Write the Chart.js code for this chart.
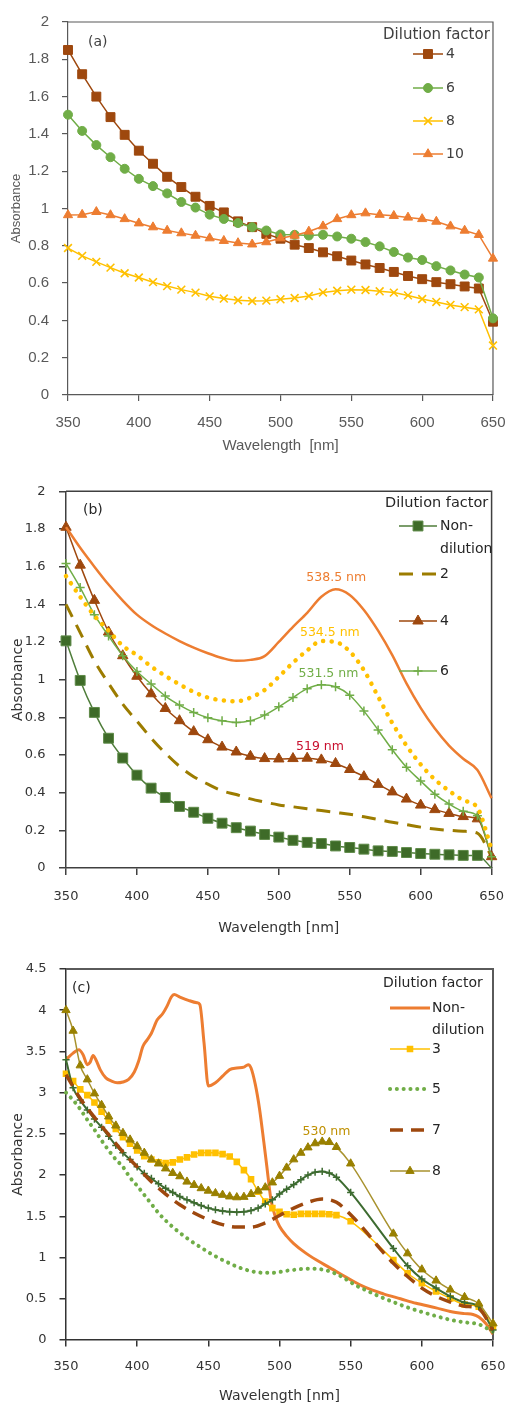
<!DOCTYPE html>
<html><head><meta charset="utf-8">
<script src="https://cdn.jsdelivr.net/npm/chart.js@4.4.1/dist/chart.umd.min.js"></script>
<style>
html,body{margin:0;padding:0;background:#fff;}
body{width:518px;height:1405px;position:relative;overflow:hidden;}
.panel{position:absolute;left:0;width:518px;}
</style></head><body>
<div class="panel" style="top:0;height:460px"><canvas id="ca"></canvas></div>
<div class="panel" style="top:470px;height:470px"><canvas id="cb"></canvas></div>
<div class="panel" style="top:945px;height:460px"><canvas id="cc"></canvas></div>
<script>
// ---------- DATA ----------
const xTicks = [350, 400, 450, 500, 550, 600, 650];
const xTickLabels = ['350', '400', '450', '500', '550', '600', '650'];
const yTicksAB = [0, 0.2, 0.4, 0.6, 0.8, 1, 1.2, 1.4, 1.6, 1.8, 2];
const yTickLabelsAB = ['0', '0.2', '0.4', '0.6', '0.8', '1', '1.2', '1.4', '1.6', '1.8', '2'];
const yTicksC = [0, 0.5, 1, 1.5, 2, 2.5, 3, 3.5, 4, 4.5];
const yTickLabelsC = ['0', '0.5', '1', '1.5', '2', '2.5', '3', '3.5', '4', '4.5'];

// Panel (a)
const wl10 = [350,360,370,380,390,400,410,420,430,440,450,460,470,480,490,500,510,520,530,540,550,560,570,580,590,600,610,620,630,640,650];
const a_df4  = [1.85,1.72,1.60,1.49,1.395,1.31,1.24,1.17,1.115,1.063,1.014,0.979,0.931,0.90,0.864,0.838,0.806,0.788,0.765,0.744,0.721,0.70,0.681,0.66,0.638,0.621,0.605,0.594,0.582,0.571,0.393];
const a_df6  = [1.503,1.416,1.34,1.275,1.213,1.159,1.12,1.081,1.035,1.005,0.967,0.944,0.922,0.90,0.882,0.861,0.859,0.855,0.859,0.85,0.838,0.82,0.797,0.767,0.737,0.724,0.691,0.668,0.646,0.63,0.411];
const a_df8  = [0.788,0.746,0.714,0.683,0.653,0.63,0.605,0.584,0.565,0.549,0.529,0.517,0.508,0.504,0.506,0.513,0.52,0.531,0.55,0.559,0.565,0.563,0.556,0.549,0.534,0.515,0.499,0.483,0.471,0.459,0.265];
const a_df10 = [0.965,0.967,0.982,0.965,0.944,0.921,0.90,0.882,0.868,0.855,0.841,0.827,0.815,0.808,0.82,0.841,0.855,0.877,0.905,0.944,0.965,0.975,0.967,0.961,0.952,0.944,0.93,0.905,0.882,0.859,0.732];

// Panel (b)
const b_nondil = [1.206,0.996,0.826,0.689,0.584,0.493,0.424,0.374,0.327,0.296,0.264,0.238,0.214,0.196,0.178,0.164,0.147,0.136,0.13,0.117,0.109,0.10,0.091,0.088,0.082,0.077,0.073,0.07,0.067,0.067,0.0];
const b_df2    = [1.40,1.25,1.10,0.98,0.87,0.78,0.69,0.61,0.54,0.485,0.445,0.41,0.39,0.367,0.35,0.335,0.325,0.315,0.305,0.295,0.285,0.272,0.258,0.243,0.23,0.217,0.207,0.2,0.195,0.185,0.06];
const b_df4    = [1.809,1.608,1.421,1.253,1.127,1.018,0.925,0.847,0.782,0.724,0.681,0.642,0.616,0.593,0.581,0.579,0.581,0.583,0.574,0.555,0.523,0.485,0.444,0.404,0.366,0.334,0.31,0.29,0.273,0.261,0.06];
const b_df6    = [1.617,1.489,1.345,1.232,1.127,1.043,0.977,0.913,0.865,0.826,0.798,0.782,0.773,0.782,0.812,0.856,0.905,0.952,0.973,0.962,0.917,0.833,0.733,0.628,0.535,0.462,0.392,0.34,0.301,0.278,0.06];
const b_dotted = [1.55,1.44,1.34,1.26,1.18,1.13,1.07,1.02,0.975,0.935,0.905,0.89,0.885,0.905,0.945,1.015,1.09,1.155,1.205,1.20,1.15,1.05,0.91,0.77,0.65,0.55,0.47,0.41,0.36,0.32,0.10];
const b_solid  = [1.81,1.70,1.60,1.505,1.42,1.345,1.29,1.245,1.205,1.17,1.14,1.115,1.10,1.105,1.125,1.20,1.28,1.355,1.44,1.48,1.45,1.37,1.26,1.13,0.98,0.85,0.74,0.65,0.58,0.52,0.37];
const b_peakText = ['538.5 nm', '534.5 nm', '531.5 nm', '519 nm'];
const b_peakX = [540.5, 536, 535, 529];
const b_peakY = [1.54, 1.25, 1.03, 0.645];

// Panel (c)
const c_wlNon = [350,355,359,362,365,367,369,371,374,378,382,386,390,394,398,401,404,407,410,414,418,421,424,426,430,436,442,444,447,450,455,460,465,470,475,478,480,483,486,489,491,494,497,500,505,510,518,526,538,550,560,573,585,596,610,620,630,636,640,645,650];
const c_nondil = [3.40,3.48,3.52,3.46,3.34,3.37,3.45,3.40,3.28,3.18,3.14,3.12,3.13,3.16,3.25,3.38,3.56,3.64,3.72,3.88,3.96,4.05,4.16,4.19,4.16,4.12,4.09,4.07,3.60,3.08,3.12,3.20,3.28,3.30,3.31,3.34,3.30,3.10,2.80,2.40,2.12,1.70,1.50,1.38,1.26,1.17,1.06,0.97,0.85,0.73,0.64,0.56,0.50,0.445,0.39,0.345,0.32,0.31,0.28,0.20,0.07];
const c_wlMk = [350,355,360,365,370,375,380,385,390,395,400,405,410,415,420,425,430,435,440,445,450,455,460,465,470,475,480,485,490,495,500,505,510,515,520,525,530,535,540,550,580,590,600,610,620,630,640,650];
const c_df3 = [3.23,3.14,3.04,2.97,2.88,2.77,2.66,2.56,2.46,2.38,2.30,2.23,2.19,2.155,2.145,2.155,2.19,2.215,2.25,2.27,2.27,2.27,2.255,2.225,2.16,2.06,1.95,1.80,1.68,1.60,1.555,1.525,1.52,1.53,1.53,1.53,1.53,1.525,1.515,1.44,0.97,0.81,0.69,0.59,0.505,0.43,0.405,0.16];
const c_df8 = [4.00,3.75,3.33,3.16,2.99,2.85,2.71,2.60,2.51,2.43,2.35,2.27,2.19,2.14,2.08,2.025,1.985,1.92,1.88,1.84,1.81,1.78,1.76,1.74,1.73,1.735,1.77,1.81,1.85,1.91,1.99,2.09,2.19,2.27,2.335,2.385,2.405,2.40,2.34,2.14,1.29,1.05,0.855,0.72,0.61,0.52,0.44,0.20];
const c_plus = [3.40,3.06,2.91,2.79,2.68,2.58,2.47,2.36,2.27,2.19,2.10,2.02,1.96,1.895,1.84,1.79,1.74,1.70,1.665,1.63,1.60,1.58,1.565,1.555,1.55,1.555,1.57,1.60,1.65,1.70,1.77,1.83,1.885,1.945,2.00,2.035,2.045,2.025,1.975,1.79,1.11,0.90,0.74,0.63,0.53,0.455,0.405,0.12];
const c_df7 = [3.22,2.93,2.70,2.49,2.28,2.10,1.92,1.77,1.64,1.54,1.46,1.40,1.37,1.37,1.42,1.51,1.60,1.67,1.71,1.67,1.52,1.33,1.12,0.93,0.77,0.63,0.53,0.46,0.41,0.38,0.12];
const c_wl5 = [350,355,360,365,370,375,380,385,390,395,400,405,410,415,420,425,430,435,440,445,450,455,460,465,470,475,480,485,490,495,500,505,510,515,520,525,530,535,540,545,550,555,560,570,580,590,600,610,620,630,640,650];
const c_df5 = [3.00,2.91,2.80,2.67,2.55,2.42,2.30,2.19,2.10,1.97,1.87,1.76,1.65,1.54,1.45,1.37,1.30,1.235,1.175,1.12,1.065,1.015,0.97,0.93,0.89,0.86,0.835,0.82,0.815,0.815,0.825,0.84,0.85,0.86,0.865,0.865,0.855,0.835,0.80,0.755,0.70,0.65,0.61,0.53,0.46,0.395,0.34,0.29,0.245,0.215,0.19,0.10];
const c_peakText = ['530 nm'];
const c_peakX = [533];
const c_peakY = [2.53];

// ---------- HELPERS ----------
const pts = (xs, ys) => xs.map((x, i) => ({x: x, y: ys[i]}));
const ORANGE = '#ED7D31', BROWN = '#9E480E', GREEN = '#70AD47', YELLOW = '#FFC000',
      DKGREEN = '#3E6B28', OLIVE = '#9C7C00', OLIVE2 = '#998000', DKGREEN2 = '#3D6B30';

function drawMarker(ctx, ds, x, y) {
  const st = ds.pointStyle;
  const r = ds.legendRadius || (typeof ds.pointRadius === 'number' ? ds.pointRadius : 0);
  if (!st || !r) return;
  ctx.save();
  ctx.setLineDash([]);
  ctx.fillStyle = ds.pointBackgroundColor || ds.borderColor;
  ctx.strokeStyle = ds.pointBorderColor || ds.borderColor;
  ctx.lineWidth = ds.pointBorderWidth || 1;
  ctx.beginPath();
  let fill = true;
  if (st === 'rect') {
    const s = r * Math.SQRT1_2;
    ctx.rect(x - s, y - s, 2 * s, 2 * s);
  } else if (st === 'circle') {
    ctx.arc(x, y, r, 0, Math.PI * 2);
  } else if (st === 'triangle') {
    let a = 0;
    ctx.moveTo(x + Math.sin(a) * r, y - Math.cos(a) * r);
    a += 2 * Math.PI / 3; ctx.lineTo(x + Math.sin(a) * r, y - Math.cos(a) * r);
    a += 2 * Math.PI / 3; ctx.lineTo(x + Math.sin(a) * r, y - Math.cos(a) * r);
    ctx.closePath();
  } else if (st === 'cross') {
    fill = false;
    ctx.moveTo(x - r, y); ctx.lineTo(x + r, y); ctx.moveTo(x, y - r); ctx.lineTo(x, y + r);
  } else if (st === 'crossRot') {
    fill = false;
    const s = r * Math.SQRT1_2;
    ctx.moveTo(x - s, y - s); ctx.lineTo(x + s, y + s); ctx.moveTo(x - s, y + s); ctx.lineTo(x + s, y - s);
  }
  if (fill) ctx.fill();
  ctx.stroke();
  ctx.restore();
}

const deco = {
  id: 'deco',
  beforeDatasetsDraw(chart, args, o) {
    const {ctx, chartArea: a} = chart;
    ctx.save();
    ctx.strokeStyle = o.frameColor; ctx.lineWidth = o.frameWidth;
    ctx.beginPath(); ctx.moveTo(a.left, a.top); ctx.lineTo(a.right, a.top); ctx.lineTo(a.right, a.bottom);
    ctx.stroke(); ctx.restore();
  },
  afterDraw(chart, args, o) {
    const ctx = chart.ctx, off = o.offset;
    ctx.save();
    ctx.textBaseline = 'middle';
    ctx.font = o.labelFont; ctx.fillStyle = o.textColor; ctx.textAlign = 'left';
    ctx.fillText(o.label, o.labelX, o.labelY - off);
    const L = o.legend;
    ctx.font = L.titleFont; ctx.fillStyle = o.textColor;
    ctx.fillText(L.title, L.titleX, L.titleY - off);
    ctx.font = L.font;
    L.items.forEach(it => {
      const ds = chart.data.datasets[it.ds];
      const y = it.y - off;
      ctx.save();
      ctx.strokeStyle = ds.borderColor; ctx.lineWidth = ds.borderWidth;
      ctx.setLineDash(ds.borderDash || []);
      ctx.lineCap = ds.borderCapStyle || 'butt';
      ctx.beginPath(); ctx.moveTo(L.x0, y); ctx.lineTo(L.x1, y); ctx.stroke();
      ctx.restore();
      drawMarker(ctx, ds, (L.x0 + L.x1) / 2, y);
      ctx.fillStyle = o.textColor;
      it.lines.forEach((t, k) => ctx.fillText(t, L.textX, y + k * L.lineGap));
    });
    const xs = chart.scales.x, ys = chart.scales.y;
    ctx.font = o.annFont; ctx.textAlign = 'center';
    o.ann.text.forEach((t, i) => {
      ctx.fillStyle = o.ann.colors[i];
      ctx.fillText(t, xs.getPixelForValue(o.ann.x[i]), ys.getPixelForValue(o.ann.y[i]));
    });
    ctx.restore();
  }
};

function scales(o) {
  return {
    x: {
      type: 'linear', min: 350, max: 650,
      afterBuildTicks: s => { s.ticks = xTicks.map(v => ({value: v})); },
      afterFit: s => { s.height = o.xH; },
      grid: {display: true, drawOnChartArea: false, drawTicks: true, tickLength: o.tl, color: o.axisColor, lineWidth: o.axisW},
      border: {display: true, color: o.axisColor, width: o.axisW},
      ticks: {font: o.tickFont, color: o.tickColor, padding: o.xPad, maxRotation: 0, autoSkip: false,
              callback: (v, i) => xTickLabels[i]},
      title: {display: true, text: o.xTitle, font: o.titleFont, color: o.tickColor, padding: {top: 0, bottom: o.xTitlePad}}
    },
    y: {
      type: 'linear', min: o.yTicks[0], max: o.yTicks[o.yTicks.length - 1],
      afterBuildTicks: s => { s.ticks = o.yTicks.map(v => ({value: v})); },
      afterFit: s => { s.width = o.yW; },
      grid: {display: true, drawOnChartArea: false, drawTicks: true, tickLength: o.tl, color: o.axisColor, lineWidth: o.axisW},
      border: {display: true, color: o.axisColor, width: o.axisW},
      ticks: {font: o.tickFont, color: o.tickColor, padding: o.yPad, autoSkip: false,
              callback: (v, i) => o.yLabels[i]},
      title: {display: true, text: 'Absorbance', font: o.yTitleFont, color: o.tickColor, padding: {top: o.yTitlePad, bottom: 0}}
    }
  };
}

const base = {
  animation: false, responsive: true, maintainAspectRatio: false, devicePixelRatio: 1,
  events: []
};

// ---------- PANEL A ----------
new Chart(document.getElementById('ca'), {
  type: 'line',
  data: {datasets: [
    {data: pts(wl10, a_df4), borderColor: BROWN, backgroundColor: BROWN, borderWidth: 1.5, pointStyle: 'rect', pointRadius: 6.3, pointBackgroundColor: BROWN, pointBorderColor: BROWN, pointBorderWidth: 1, tension: 0, clip: false, order: 4},
    {data: pts(wl10, a_df6), borderColor: GREEN, backgroundColor: GREEN, borderWidth: 1.5, pointStyle: 'circle', pointRadius: 4.5, pointBackgroundColor: GREEN, pointBorderColor: GREEN, pointBorderWidth: 1, tension: 0, clip: false, order: 3},
    {data: pts(wl10, a_df8), borderColor: YELLOW, backgroundColor: YELLOW, borderWidth: 1.5, pointStyle: 'crossRot', pointRadius: 5.5, pointBackgroundColor: YELLOW, pointBorderColor: YELLOW, pointBorderWidth: 1.6, tension: 0, clip: false, order: 2},
    {data: pts(wl10, a_df10), borderColor: ORANGE, backgroundColor: ORANGE, borderWidth: 1.5, pointStyle: 'triangle', pointRadius: 5.3, pointBackgroundColor: ORANGE, pointBorderColor: ORANGE, pointBorderWidth: 1, tension: 0, clip: false, order: 1}
  ]},
  options: Object.assign({}, base, {
    layout: {padding: {top: 17, right: 15, left: 0, bottom: 0}},
    scales: scales({xH: 65, yW: 68, tl: 6, axisColor: '#595959', axisW: 1.2,
      tickFont: {family: 'Liberation Sans', size: 15}, tickColor: '#595959', xPad: 12.5, yPad: 13,
      xTitle: 'Wavelength  [nm]', titleFont: {family: 'Liberation Sans', size: 15}, xTitlePad: 5,
      yTicks: yTicksAB, yLabels: yTickLabelsAB, yTitleFont: {family: 'Liberation Sans', size: 13}, yTitlePad: 9}),
    plugins: {legend: {display: false}, tooltip: {enabled: false},
      deco: {offset: 0, frameColor: '#595959', frameWidth: 1.2, textColor: '#404040',
        label: '(a)', labelX: 88, labelY: 42, labelFont: '14px "DejaVu Sans"',
        legend: {title: 'Dilution factor', titleX: 383, titleY: 35, titleFont: '15px "DejaVu Sans"', font: '14px "DejaVu Sans"',
          x0: 413, x1: 443, textX: 446, lineGap: 22,
          items: [{ds: 0, y: 54, lines: ['4']}, {ds: 1, y: 88, lines: ['6']}, {ds: 2, y: 121, lines: ['8']}, {ds: 3, y: 154, lines: ['10']}]},
        annFont: '12.5px "DejaVu Sans"', ann: {text: [], x: [], y: [], colors: []}}}
  }),
  plugins: [deco]
});

// ---------- PANEL B ----------
new Chart(document.getElementById('cb'), {
  type: 'line',
  data: {datasets: [
    {data: pts(wl10, b_nondil), borderColor: '#4F7D3A', borderWidth: 1.5, pointStyle: 'rect', legendRadius: 7, pointRadius: ctx => ctx.dataIndex === wl10.length - 1 ? 0 : 7, pointBackgroundColor: DKGREEN, pointBorderColor: '#5E8A48', pointBorderWidth: 1, cubicInterpolationMode: 'monotone', clip: false, order: 6},
    {data: pts(wl10, b_df2), borderColor: OLIVE, borderWidth: 3, borderDash: [14, 9], pointRadius: 0, cubicInterpolationMode: 'monotone', clip: false, order: 5},
    {data: pts(wl10, b_df4), borderColor: BROWN, borderWidth: 1.5, pointStyle: 'triangle', pointRadius: 6, pointBackgroundColor: BROWN, pointBorderColor: BROWN, pointBorderWidth: 1, cubicInterpolationMode: 'monotone', clip: false, order: 4},
    {data: pts(wl10, b_df6), borderColor: GREEN, borderWidth: 1.5, pointStyle: 'cross', pointRadius: 4.5, pointBackgroundColor: GREEN, pointBorderColor: GREEN, pointBorderWidth: 1.5, cubicInterpolationMode: 'monotone', clip: false, order: 3},
    {data: pts(wl10, b_dotted), borderColor: YELLOW, borderWidth: 4.5, borderDash: [0.1, 8.5], borderCapStyle: 'round', pointRadius: 0, cubicInterpolationMode: 'monotone', clip: false, order: 2},
    {data: pts(wl10, b_solid), borderColor: ORANGE, borderWidth: 2.5, pointRadius: 0, cubicInterpolationMode: 'monotone', clip: false, order: 1}
  ]},
  options: Object.assign({}, base, {
    layout: {padding: {top: 17, right: 13, left: 0, bottom: 0}},
    scales: scales({xH: 72, yW: 66, tl: 7, axisColor: '#404040', axisW: 1.5,
      tickFont: {family: 'DejaVu Sans', size: 13}, tickColor: '#333333', xPad: 14, yPad: 13.5,
      xTitle: 'Wavelength [nm]', titleFont: {family: 'DejaVu Sans', size: 14}, xTitlePad: 3.6,
      yTicks: yTicksAB, yLabels: yTickLabelsAB, yTitleFont: {family: 'DejaVu Sans', size: 14}, yTitlePad: 9.6}),
    plugins: {legend: {display: false}, tooltip: {enabled: false},
      deco: {offset: 470, frameColor: '#404040', frameWidth: 1.5, textColor: '#262626',
        label: '(b)', labelX: 83, labelY: 510, labelFont: '14px "DejaVu Sans"',
        legend: {title: 'Dilution factor', titleX: 385, titleY: 503, titleFont: '14.5px "DejaVu Sans"', font: '14px "DejaVu Sans"',
          x0: 399, x1: 437, textX: 440, lineGap: 23,
          items: [{ds: 0, y: 526, lines: ['Non-', 'dilution']}, {ds: 1, y: 574, lines: ['2']}, {ds: 2, y: 621, lines: ['4']}, {ds: 3, y: 671, lines: ['6']}]},
        annFont: '12.5px "DejaVu Sans"',
        ann: {text: b_peakText, x: b_peakX, y: b_peakY, colors: [ORANGE, YELLOW, GREEN, '#C8102E']}}}
  }),
  plugins: [deco]
});

// ---------- PANEL C ----------
new Chart(document.getElementById('cc'), {
  type: 'line',
  data: {datasets: [
    {data: pts(c_wlNon, c_nondil), borderColor: ORANGE, borderWidth: 3, pointRadius: 0, cubicInterpolationMode: 'monotone', clip: false, order: 6},
    {data: pts(c_wlMk, c_df3), borderColor: YELLOW, borderWidth: 1.5, pointStyle: 'rect', pointRadius: 3.6, pointBackgroundColor: YELLOW, pointBorderColor: YELLOW, pointBorderWidth: 1.5, cubicInterpolationMode: 'monotone', clip: false, order: 5},
    {data: pts(c_wl5, c_df5), borderColor: GREEN, borderWidth: 4, borderDash: [0.1, 6.7], borderCapStyle: 'round', pointRadius: 0, cubicInterpolationMode: 'monotone', clip: false, order: 4},
    {data: pts(c_wlMk, c_plus), borderColor: DKGREEN2, borderWidth: 2, pointStyle: 'cross', pointRadius: 3.6, pointBackgroundColor: DKGREEN2, pointBorderColor: DKGREEN2, pointBorderWidth: 1.5, cubicInterpolationMode: 'monotone', clip: false, order: 3},
    {data: pts(wl10, c_df7), borderColor: BROWN, borderWidth: 3.5, borderDash: [13, 8], pointRadius: 0, cubicInterpolationMode: 'monotone', clip: false, order: 2},
    {data: pts(c_wlMk, c_df8), borderColor: '#A8922E', borderWidth: 1.5, pointStyle: 'triangle', pointRadius: 4.8, pointBackgroundColor: OLIVE2, pointBorderColor: OLIVE2, pointBorderWidth: 1, cubicInterpolationMode: 'monotone', clip: false, order: 1}
  ]},
  options: Object.assign({}, base, {
    layout: {padding: {top: 24, right: 25, left: 0, bottom: 0}},
    scales: scales({xH: 65, yW: 66, tl: 6.5, axisColor: '#333333', axisW: 1.5,
      tickFont: {family: 'DejaVu Sans', size: 13}, tickColor: '#333333', xPad: 12.4, yPad: 13,
      xTitle: 'Wavelength [nm]', titleFont: {family: 'DejaVu Sans', size: 14}, xTitlePad: 0,
      yTicks: yTicksC, yLabels: yTickLabelsC, yTitleFont: {family: 'DejaVu Sans', size: 14}, yTitlePad: 9.6}),
    plugins: {legend: {display: false}, tooltip: {enabled: false},
      deco: {offset: 945, frameColor: '#5a5a5a', frameWidth: 2, textColor: '#262626',
        label: '(c)', labelX: 72, labelY: 988, labelFont: '14px "DejaVu Sans"',
        legend: {title: 'Dilution factor', titleX: 383, titleY: 983, titleFont: '14px "DejaVu Sans"', font: '14px "DejaVu Sans"',
          x0: 390, x1: 430, textX: 432, lineGap: 22,
          items: [{ds: 0, y: 1008, lines: ['Non-', 'dilution']}, {ds: 1, y: 1049, lines: ['3']}, {ds: 2, y: 1089, lines: ['5']}, {ds: 4, y: 1130, lines: ['7']}, {ds: 5, y: 1171, lines: ['8']}]},
        annFont: '12.5px "DejaVu Sans"',
        ann: {text: c_peakText, x: c_peakX, y: c_peakY, colors: ['#BF9000']}}}
  }),
  plugins: [deco]
});
</script>
</body></html>
